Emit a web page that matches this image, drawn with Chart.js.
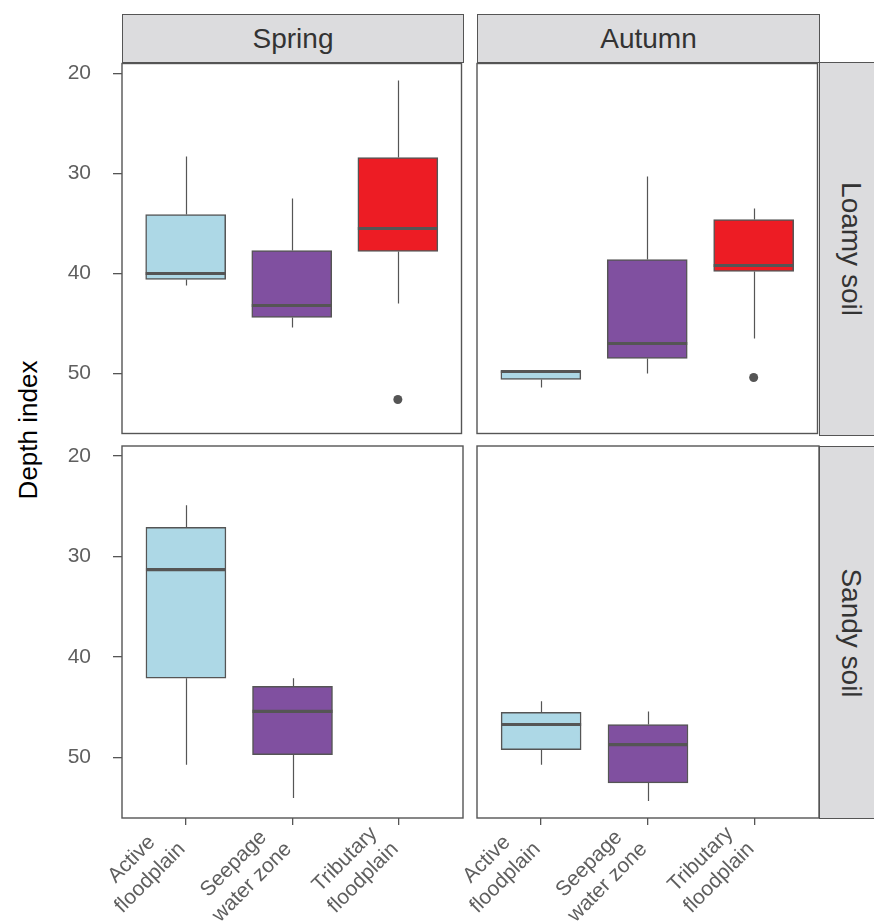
<!DOCTYPE html>
<html>
<head>
<meta charset="utf-8">
<script src="https://cdn.jsdelivr.net/npm/chart.js@4"></script>
<style>
  html, body { margin: 0; padding: 0; background: #fff; }
  #wrap { position: relative; width: 874px; height: 922px; overflow: hidden;
          font-family: "Liberation Sans", Arial, sans-serif; }
  canvas { position: absolute; }
  .strip { position: absolute; background: #dcdcde; border: 1.3px solid #555; box-sizing: border-box;
           color: #333; font-size: 28px; display: flex; align-items: center; justify-content: center; }
  .vtext { transform: rotate(90deg); white-space: nowrap; }
  #ytitle { position: absolute; left: 28px; top: 430px; transform: translate(-50%, -50%) rotate(-90deg);
            font-size: 26px; color: #000; white-space: nowrap; }
</style>
</head>
<body>
<div id="wrap">
  <div class="strip" id="s-col0" style="left:122px;top:14px;width:342px;height:49px;"></div>
  <div class="strip" id="s-col1" style="left:477px;top:14px;width:343px;height:49px;"></div>
  <div class="strip" id="s-row0" style="left:819px;top:62px;width:64px;height:374px;"><span class="vtext"></span></div>
  <div class="strip" id="s-row1" style="left:819px;top:446px;width:64px;height:373px;"><span class="vtext"></span></div>
  <div id="ytitle"></div>
  <canvas id="c00" width="466" height="379" style="left:0px;top:59px;"></canvas>
  <canvas id="c01" width="392" height="379" style="left:430px;top:59px;"></canvas>
  <canvas id="c10" width="466" height="479" style="left:0px;top:443px;"></canvas>
  <canvas id="c11" width="392" height="479" style="left:430px;top:443px;"></canvas>
</div>
<script>
// Habitat categories along the x axis (two-line labels)
const categories = [["Active", "floodplain"], ["Seepage", "water zone"], ["Tributary", "floodplain"]];
const seasons = ["Spring", "Autumn"];
const soils = ["Loamy soil", "Sandy soil"];
const yTitle = "Depth index";
const yTicks = [20, 30, 40, 50];

// Box statistics per habitat: [min, q1, median, q3, max]; null = no samples
const loamySpring = [[28.3, 34.1, 40.0, 40.6, 41.2], [32.5, 37.7, 43.2, 44.4, 45.4], [20.7, 28.4, 35.5, 37.8, 43.0]];
const loamySpringOutliers = [[], [], [52.6]];
const loamyAutumn = [[49.7, 49.7, 49.8, 50.6, 51.4], [30.3, 38.6, 47.0, 48.5, 50.0], [33.5, 34.6, 39.2, 39.8, 46.5]];
const loamyAutumnOutliers = [[], [], [50.4]];
const sandySpring = [[24.9, 27.1, 31.3, 42.1, 50.7], [42.1, 42.9, 45.4, 49.7, 54.0], null];
const sandySpringOutliers = [[], [], []];
const sandyAutumn = [[44.4, 45.5, 46.7, 49.2, 50.7], [45.4, 46.7, 48.7, 52.5, 54.3], null];
const sandyAutumnOutliers = [[], [], []];

const boxColors = ["#ADD8E6", "#8050A0", "#ED1C24"];
const FONT = "Liberation Sans, Arial, sans-serif";
const LINE = "#555555";
const Y_MIN = 19.0, Y_MAX = 56.0;

Chart.defaults.font.family = FONT;

document.getElementById("s-col0").textContent = seasons[0];
document.getElementById("s-col1").textContent = seasons[1];
document.querySelector("#s-row0 .vtext").textContent = soils[0];
document.querySelector("#s-row1 .vtext").textContent = soils[1];
document.getElementById("ytitle").textContent = yTitle;

function makePanel(id, stats, outliers, showY, showX) {
  const boxData = [];
  stats.forEach((s, i) => { if (s) boxData.push({ x: i + 1, y: [s[1], s[3]] }); });
  const outData = [];
  outliers.forEach((list, i) => list.forEach(v => outData.push({ x: i + 1, y: v })));

  // whiskers, medians, panel frame and rotated category labels
  const boxParts = {
    id: "boxParts",
    beforeDatasetsDraw(chart) {
      const ctx = chart.ctx, ys = chart.scales.y, meta = chart.getDatasetMeta(0);
      ctx.save();
      ctx.strokeStyle = LINE; ctx.lineWidth = 1.2;
      meta.data.forEach((el, k) => {
        const s = stats[boxData[k].x - 1];
        const x = Math.round(el.x) + 0.5;
        ctx.beginPath();
        ctx.moveTo(x, ys.getPixelForValue(s[0])); ctx.lineTo(x, ys.getPixelForValue(s[1]));
        ctx.moveTo(x, ys.getPixelForValue(s[3])); ctx.lineTo(x, ys.getPixelForValue(s[4]));
        ctx.stroke();
      });
      ctx.restore();
    },
    afterDatasetsDraw(chart) {
      const ctx = chart.ctx, ys = chart.scales.y, meta = chart.getDatasetMeta(0);
      ctx.save();
      ctx.strokeStyle = LINE; ctx.lineWidth = 3.2;
      meta.data.forEach((el, k) => {
        const s = stats[boxData[k].x - 1];
        const y = ys.getPixelForValue(s[2]);
        ctx.beginPath();
        ctx.moveTo(el.x - el.width / 2, y); ctx.lineTo(el.x + el.width / 2, y);
        ctx.stroke();
      });
      ctx.restore();
    },
    afterDraw(chart) {
      const ctx = chart.ctx, a = chart.chartArea;
      ctx.save();
      ctx.strokeStyle = LINE; ctx.lineWidth = 1.4;
      ctx.strokeRect(a.left, a.top, a.right - a.left, a.bottom - a.top);
      if (showX) {
        const xs = chart.scales.x, lh = 26;
        ctx.fillStyle = "#5f5f5f";
        ctx.font = "21px " + FONT;
        ctx.textAlign = "center"; ctx.textBaseline = "middle";
        categories.forEach((lines, i) => {
          const px = xs.getPixelForValue(i + 1);
          const w = Math.max(...lines.map(t => ctx.measureText(t).width));
          ctx.save();
          ctx.translate(px - 4, a.bottom + 28);
          ctx.rotate(-Math.PI / 4);
          lines.forEach((t, j) => ctx.fillText(t, -w / 2, (j - (lines.length - 1)) * lh));
          ctx.restore();
        });
      }
      ctx.restore();
    }
  };

  return new Chart(document.getElementById(id), {
    type: "bar",
    data: {
      datasets: [
        {
          type: "bar",
          data: boxData,
          backgroundColor: c => boxColors[c.raw.x - 1],
          borderColor: LINE,
          borderWidth: 1.5,
          borderSkipped: false,
          barThickness: 80
        },
        {
          type: "scatter",
          data: outData,
          pointRadius: 4.5,
          pointBackgroundColor: LINE,
          pointBorderWidth: 0
        }
      ]
    },
    options: {
      responsive: false,
      animation: false,
      events: [],
      devicePixelRatio: 1,
      layout: { padding: { left: showY ? 0 : 47, right: 3, top: 3, bottom: showX ? 0 : 3 } },
      plugins: { legend: { display: false }, tooltip: { enabled: false } },
      scales: {
        x: {
          type: "linear", min: 0.4, max: 3.6, display: showX, offset: false,
          afterBuildTicks: s => { s.ticks = [1, 2, 3].map(v => ({ value: v })); },
          afterFit: s => {
            s.height = showX ? 104 : 0;
            s.paddingLeft = 0; s.paddingRight = 0; s.paddingTop = 0; s.paddingBottom = 0;
          },
          ticks: { display: false },
          grid: { drawOnChartArea: false, drawTicks: true, tickLength: 7, color: LINE, lineWidth: 1.3, offset: false },
          border: { display: false }
        },
        y: {
          type: "linear", reverse: true, min: Y_MIN, max: Y_MAX, display: showY,
          afterBuildTicks: s => { s.ticks = yTicks.map(v => ({ value: v })); },
          afterFit: s => {
            s.width = showY ? 122 : 0;
            s.paddingLeft = 0; s.paddingRight = 0; s.paddingTop = 0; s.paddingBottom = 0;
          },
          ticks: { font: { size: 21 }, color: "#5f5f5f", padding: 22 },
          grid: { drawOnChartArea: false, drawTicks: true, tickLength: 9, color: LINE, lineWidth: 1.3 },
          border: { display: false }
        }
      }
    },
    plugins: [boxParts]
  });
}

makePanel("c00", loamySpring, loamySpringOutliers, true, false);
makePanel("c01", loamyAutumn, loamyAutumnOutliers, false, false);
makePanel("c10", sandySpring, sandySpringOutliers, true, true);
makePanel("c11", sandyAutumn, sandyAutumnOutliers, false, true);
</script>
</body>
</html>
